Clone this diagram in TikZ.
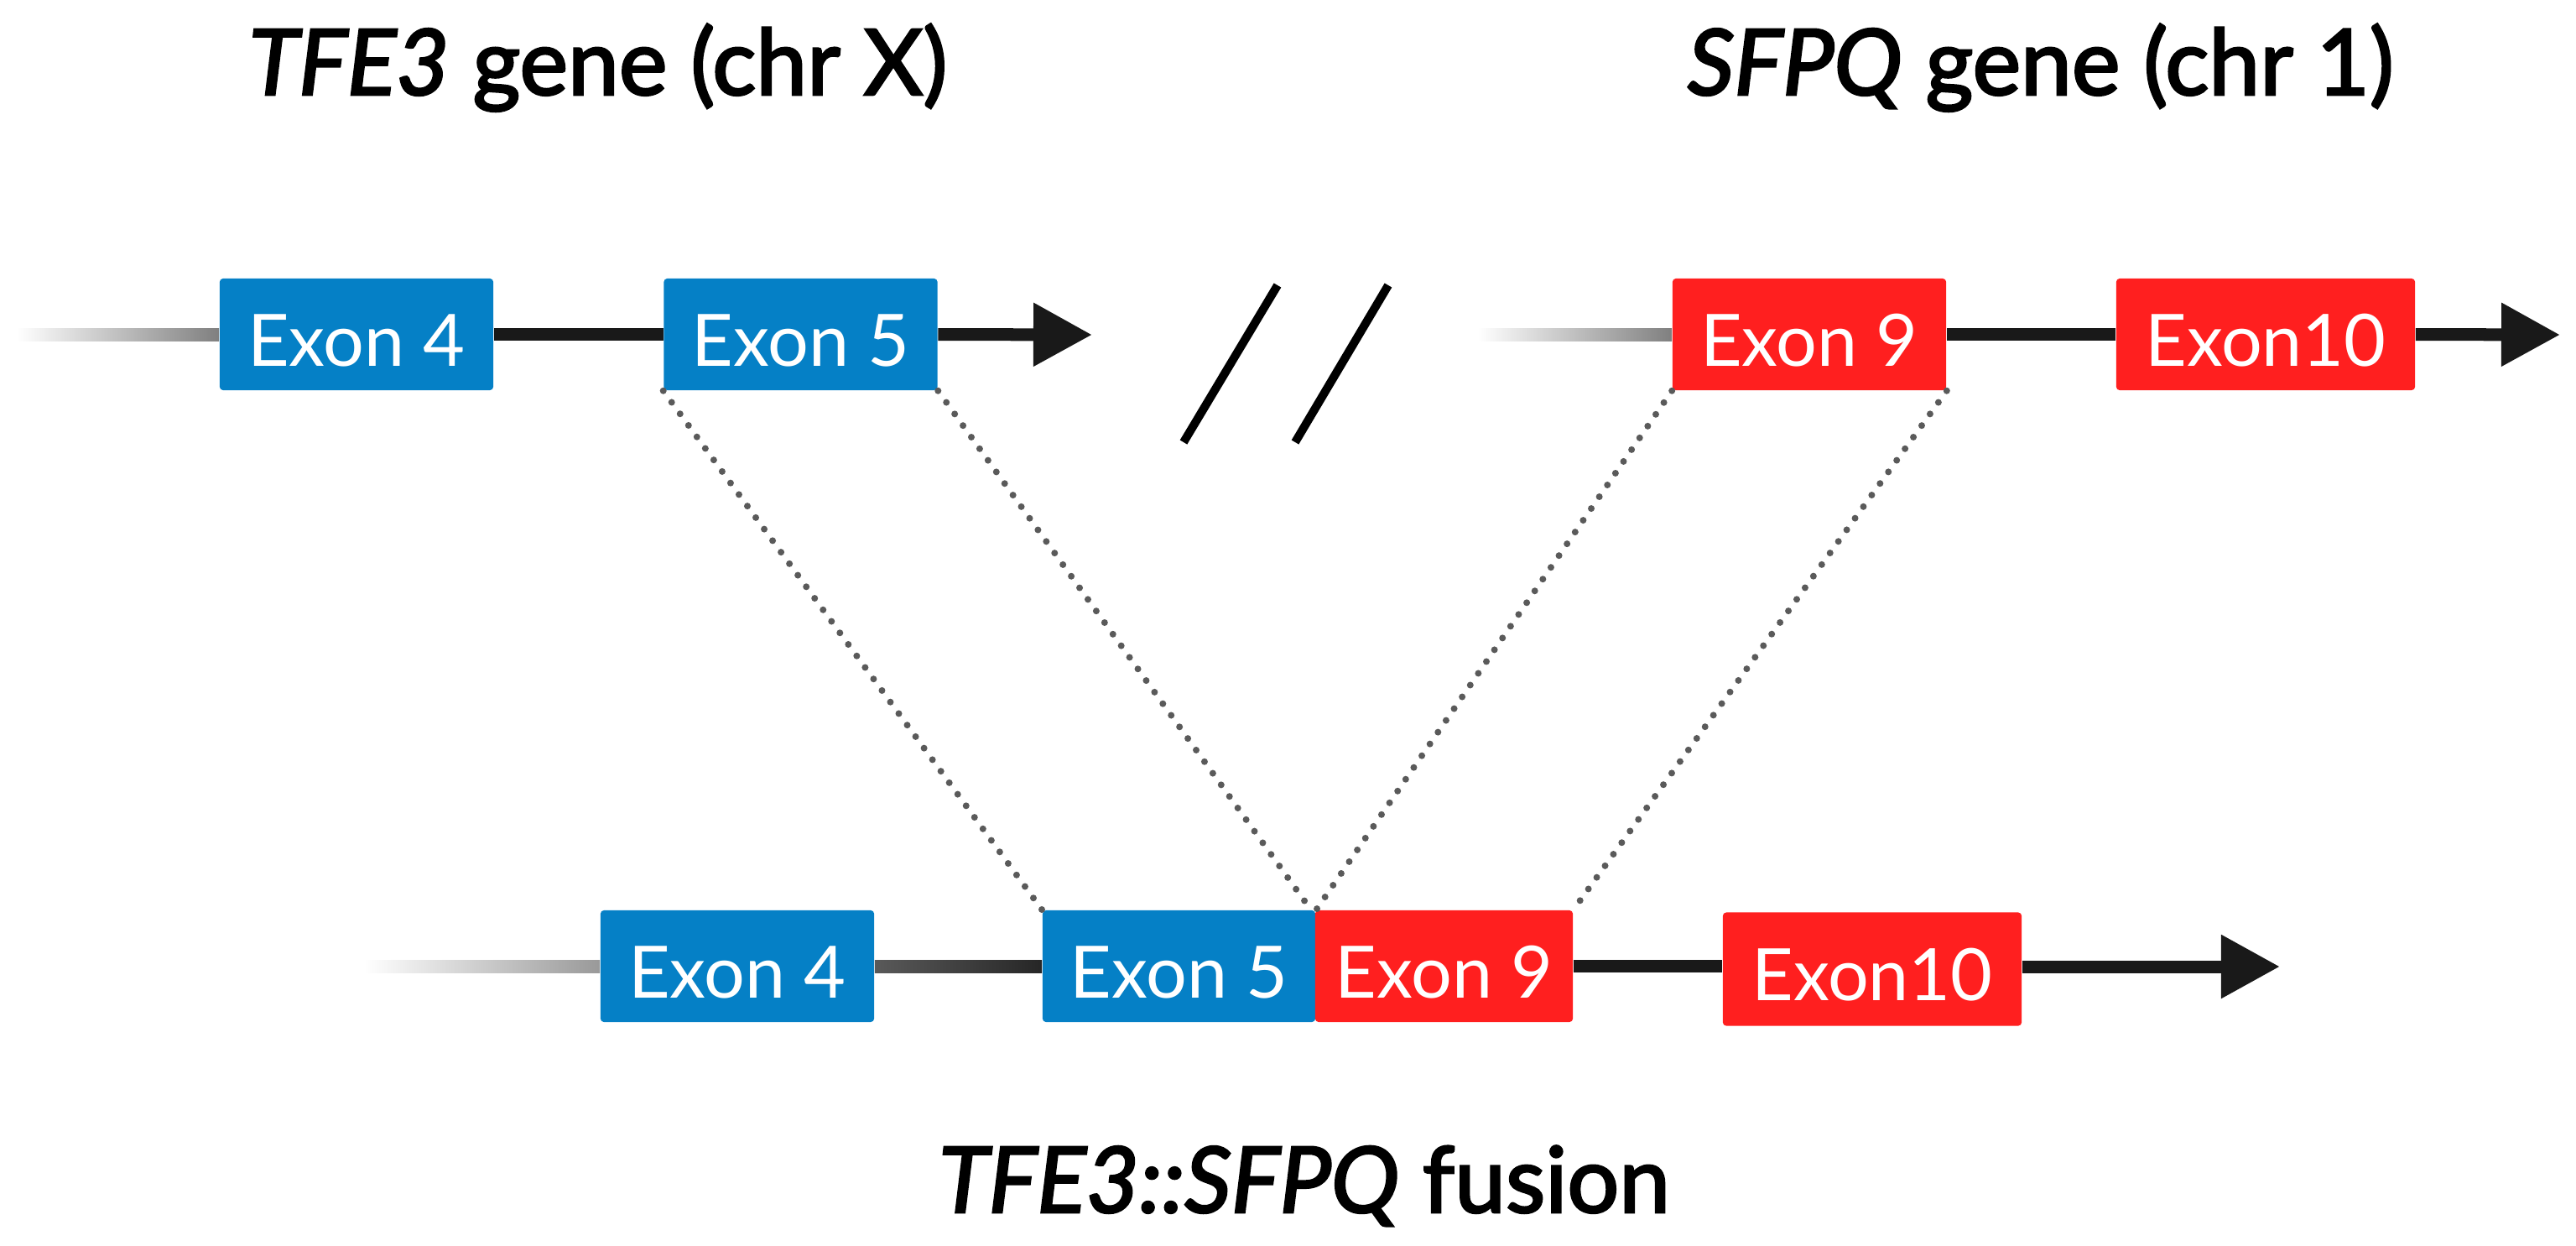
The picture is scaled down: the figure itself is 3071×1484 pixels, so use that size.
\documentclass[tikz,border=0pt]{standalone}
\usepackage{fontspec}
\setmainfont{Lato}
\newfontfamily\titlefont{Lato}[FakeBold=2.5]
\usetikzlibrary{arrows.meta}
\definecolor{exblue}{HTML}{0580C6}
\definecolor{exred}{HTML}{FF1F1F}
\definecolor{dotgray}{HTML}{5A5A5A}
\begin{document}
\begin{tikzpicture}[x=0.01cm,y=-0.01cm,
  exon/.style={rectangle,rounded corners=0.04cm,inner sep=0pt,minimum height=1.33cm,
    text=white,font=\fontsize{24.5}{28}\selectfont,text height=0.75cm,text depth=0pt},
  bluebox/.style={exon,fill=exblue},
  redbox/.style={exon,fill=exred},
  gline/.style={line width=0.15cm,black!90},
  garrow/.style={gline,-{Triangle[length=0.7cm,width=0.72cm]}},
  mapline/.style={dotgray,line width=0.08cm,dash pattern=on 0pt off 0.17cm,line cap=round},
  slashline/.style={line width=0.1cm,black},
  title/.style={anchor=base,inner sep=0pt,font=\titlefont\fontsize{31}{37}\selectfont}]
\useasboundingbox (0,0) rectangle (3071,1484);

% titles
\node[title] (ttfe) at (713,113) {\textit{TFE3} gene (chr X)};
\node[title] (tsfpq) at (2433,113) {\textit{SFPQ} gene (chr 1)};
\node[title] (tfus) at (1555,1445) {\textit{TFE3::SFPQ} fusion};

% coordinates
\coordinate (sA) at (20,399);
\coordinate (tipA) at (1302,399);
\coordinate (sB) at (1762,399);
\coordinate (tipB) at (3052,399);
\coordinate (sC) at (434,1152);
\coordinate (tipC) at (2718,1152);

% top boxes
\node[bluebox,minimum width=3.26cm] (t4) at (425,398.5) {Exon 4};
\node[bluebox,minimum width=3.26cm] (t5) at (954.5,398.5) {Exon 5};
\node[redbox,minimum width=3.26cm] (t9) at (2157,398.5) {Exon 9};
\node[redbox,minimum width=3.56cm] (t10) at (2701,398.5) {Exon10};

% bottom boxes
\node[bluebox,minimum width=3.26cm] (b4) at (879,1151.5) {Exon 4};
\node[bluebox,minimum width=3.25cm] (b5) at (1405.5,1151.5) {Exon 5};
\node[redbox,minimum width=3.07cm] (b9) at (1721.5,1151.5) {Exon 9};
\node[redbox,minimum width=3.56cm,minimum height=1.35cm] (b10) at (2232,1155) {Exon10};

% top TFE3 line
\shade[left color=white,right color=black!50] ([yshift=0.075cm]sA) rectangle ([yshift=-0.075cm]sA -| t4.west);
\draw[gline] (t4.east) -- (t5.west);
\draw[garrow] (t5.east) -- (tipA);

% break marks
\coordinate (k1a) at (1411,527);
\coordinate (k1b) at (1523,340);
\coordinate (k2a) at (1544,527);
\coordinate (k2b) at (1655,340);
\draw[slashline] (k1a) -- (k1b);
\draw[slashline] (k2a) -- (k2b);

% top SFPQ line
\shade[left color=white,right color=black!50] ([yshift=0.075cm]sB) rectangle ([yshift=-0.075cm]sB -| t9.west);
\draw[gline] (t9.east) -- (t10.west);
\draw[garrow] (t10.east) -- (tipB);

% fusion line
\shade[left color=white,right color=black!40] ([yshift=0.075cm]sC) rectangle ([yshift=-0.075cm]sC -| b4.west);
\shade[left color=black!65,right color=black!85] ([yshift=0.075cm]b4.east) rectangle ([yshift=-0.075cm]b4.east -| b5.west);
\draw[gline] (b9.east) -- (b9.east -| b10.west);
\draw[garrow] (b10.east |- tipC) -- (tipC);

% mapping lines
\draw[mapline] (t5.south west) -- (b5.north west);
\draw[mapline] (t5.south east) -- ([xshift=-0.06cm]b5.north east);
\draw[mapline] (t9.south west) -- ([xshift=0.02cm]b9.north west);
\draw[mapline] (t9.south east) -- (b9.north east);
\end{tikzpicture}
\end{document}
